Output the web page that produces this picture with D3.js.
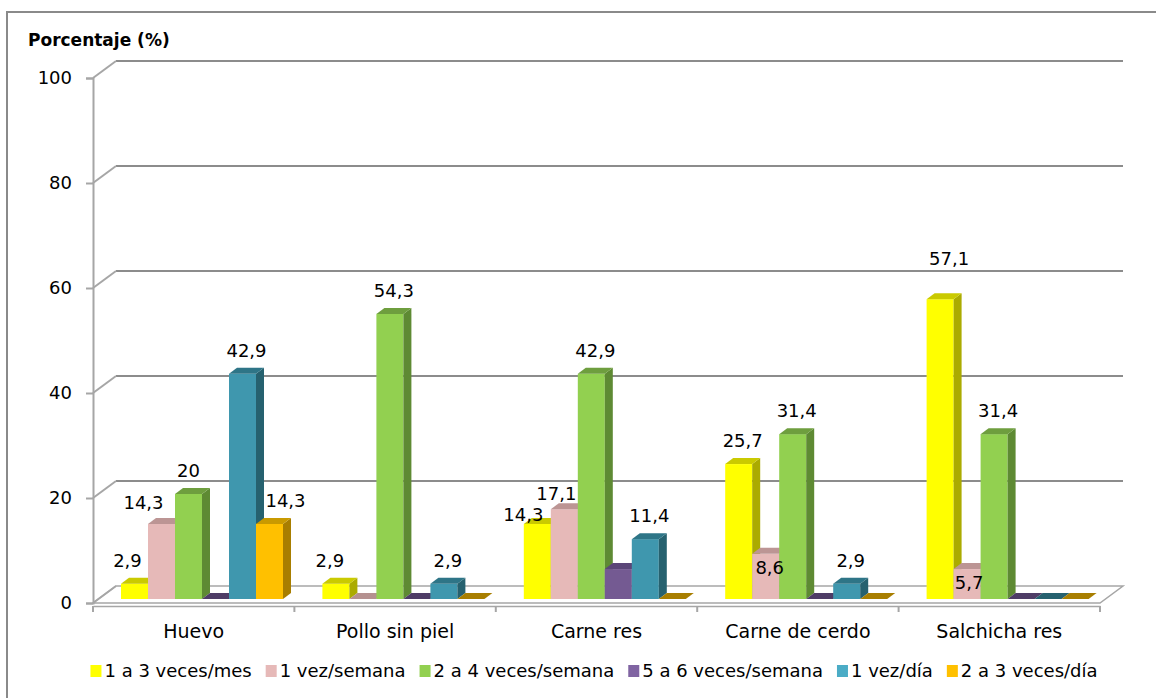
<!DOCTYPE html>
<html>
<head>
<meta charset="utf-8">
<script src="https://cdn.jsdelivr.net/npm/d3@7"></script>
<style>
  body { margin: 0; background: #fff; }
  svg text { font-family: "DejaVu Sans", sans-serif; fill: #000; }
</style>
</head>
<body>
<div class="chart"></div>
<script>
// Data: categories, series and values (percent)
const categories = ['Huevo', 'Pollo sin piel', 'Carne res', 'Carne de cerdo', 'Salchicha res'];
const seriesNames = ['1 a 3 veces/mes', '1 vez/semana', '2 a 4 veces/semana', '5 a 6 veces/semana', '1 vez/día', '2 a 3 veces/día'];
const huevo = [2.9, 14.3, 20, 0, 42.9, 14.3];
const polloSinPiel = [2.9, 0, 54.3, 0, 2.9, 0];
const carneRes = [14.3, 17.1, 42.9, 5.7, 11.4, 0];
const carneCerdo = [25.7, 8.6, 31.4, 0, 2.9, 0];
const salchichaRes = [57.1, 5.7, 31.4, 0, 0, 0];
const yTicks = [0, 20, 40, 60, 80, 100];

const values = [huevo, polloSinPiel, carneRes, carneCerdo, salchichaRes];

// colors: front, side, top
const palette = [
    { front: '#FFFF00', side: '#ABAB00', top: '#CACA00', legend: '#FFFF00' },
    { front: '#E6B9B8', side: '#B59190', top: '#BC9594', legend: '#E6B9B8' },
    { front: '#92D050', side: '#5E8A33', top: '#6E9E3E', legend: '#92D050' },
    { front: '#745A92', side: '#4E3C66', top: '#5B4678', legend: '#8064A2' },
    { front: '#3F97AE', side: '#26616F', top: '#2E7587', legend: '#4BACC6' },
    { front: '#FFC000', side: '#A87E00', top: '#C99A00', legend: '#FFC000' }
];

// labels moved by hand in the original (dx, dy from the default spot)
const labelNudge = {
    '0-0': [-11, 0], '0-1': [-22, 2], '0-2': [-4, 0], '0-5': [12, 0],
    '1-0': [-10, 0],
    '2-0': [-18, 14], '2-1': [-12, 7],
    '3-1': [0, 37],
    '4-0': [5, -18], '4-1': [-2, 37]
};
const hiddenLabels = ['2-3'];

const W = 1156, H = 698;
const depth = { dx: 23, dy: -17 };      // wall depth
const barDepth = { dx: 8, dy: -6 };     // bar depth
const gridColor = '#8C8C8C';
const axisColor = '#A6A6A6';

const svg = d3.select('.chart').append('svg')
    .attr('width', W)
    .attr('height', H);

// outer chart border
svg.append('path')
    .attr('d', `M7,${H + 5} L7,12 L${W + 5},12`)
    .attr('fill', 'none')
    .attr('stroke', '#8A8A8A')
    .attr('stroke-width', 2);

// Scales
const x = d3.scaleBand()
    .domain(categories)
    .range([93, 1100]);

const xs = d3.scaleBand()
    .domain(seriesNames)
    .range([28, 28 + 162]);

const yFront = d3.scaleLinear().domain([0, 100]).range([603, 78]);
const yBar = d3.scaleLinear().domain([0, 100]).range([599, 74]);

const x0 = x.range()[0], x1 = x.range()[1];

// floor
svg.append('polygon')
    .attr('points', [
        [x0, yFront(0)], [x0 + depth.dx, yFront(0) + depth.dy],
        [x1 + depth.dx, yFront(0) + depth.dy], [x1, yFront(0)]
    ].map(p => p.join(',')).join(' '))
    .attr('fill', '#fff')
    .attr('stroke', axisColor)
    .attr('stroke-width', 1.5);

// back wall gridlines + left wall diagonals
const grid = svg.append('g').attr('class', 'grid');
yTicks.forEach(t => {
    const yf = yFront(t), yb = yf + depth.dy;
    if (t > 0) {
        grid.append('line')
            .attr('x1', x0 + depth.dx).attr('x2', x1 + depth.dx)
            .attr('y1', yb).attr('y2', yb)
            .attr('stroke', gridColor).attr('stroke-width', 2);
    }
    grid.append('line')
        .attr('x1', x0).attr('y1', yf)
        .attr('x2', x0 + depth.dx).attr('y2', yb)
        .attr('stroke', axisColor).attr('stroke-width', 2);
});

// Y-axis
const yAxis = svg.append('g')
    .attr('class', 'y-axis')
    .attr('transform', `translate(${x0},0)`)
    .call(d3.axisLeft(yFront).tickValues(yTicks).tickSize(7).tickPadding(14));
yAxis.select('.domain').attr('stroke', axisColor).attr('stroke-width', 2);
yAxis.selectAll('.tick line').attr('stroke', axisColor).attr('stroke-width', 2);
yAxis.selectAll('text')
    .style('font-size', '18px')
    .style('font-family', '"DejaVu Sans", sans-serif')
    .attr('fill', '#000');

// X-axis (front edge of floor)
const xAxis = svg.append('g')
    .attr('class', 'x-axis')
    .attr('transform', `translate(0,${yFront(0) + 3})`)
    .call(d3.axisBottom(x).tickSize(0).tickPadding(19));
xAxis.select('.domain').attr('stroke', axisColor).attr('stroke-width', 1.5);
xAxis.selectAll('text')
    .style('font-size', '19px')
    .style('font-family', '"DejaVu Sans", sans-serif')
    .attr('fill', '#000');
// category separator ticks
xAxis.selectAll('.sep')
    .data(categories.map(c => x(c)).concat([x1]))
    .enter()
    .append('line')
    .attr('x1', d => d).attr('x2', d => d)
    .attr('y1', 0).attr('y2', 6)
    .attr('stroke', axisColor).attr('stroke-width', 2);

// Bars (3D boxes)
const bars = svg.append('g').attr('class', 'bars');
const bw = xs.bandwidth();
const base = yBar(0);
categories.forEach((cat, ci) => {
    seriesNames.forEach((s, si) => {
        const v = values[ci][si];
        const bx = x(cat) + xs(s);
        const top = yBar(v);
        const c = palette[si];
        const g = bars.append('g');
        if (v > 0) {
            g.append('rect')
                .attr('x', bx).attr('y', top)
                .attr('width', bw).attr('height', base - top)
                .attr('fill', c.front);
            g.append('polygon')
                .attr('points', [
                    [bx + bw, top], [bx + bw + barDepth.dx, top + barDepth.dy],
                    [bx + bw + barDepth.dx, base + barDepth.dy], [bx + bw, base]
                ].map(p => p.join(',')).join(' '))
                .attr('fill', c.side);
        }
        g.append('polygon')
            .attr('points', [
                [bx, top], [bx + barDepth.dx, top + barDepth.dy],
                [bx + bw + barDepth.dx, top + barDepth.dy], [bx + bw, top]
            ].map(p => p.join(',')).join(' '))
            .attr('fill', v > 0 ? c.top : c.side);
    });
});

// Data labels
const labels = svg.append('g').attr('class', 'labels');
categories.forEach((cat, ci) => {
    seriesNames.forEach((s, si) => {
        const v = values[ci][si];
        const key = `${ci}-${si}`;
        if (v === 0 || hiddenLabels.includes(key)) return;
        const nudge = labelNudge[key] || [0, 0];
        const lx = x(cat) + xs(s) + bw / 2 + 4 + nudge[0];
        const ly = yBar(v) - 23 + nudge[1];
        labels.append('text')
            .attr('x', lx)
            .attr('y', ly)
            .attr('dy', '0.35em')
            .attr('text-anchor', 'middle')
            .style('font-size', '18px')
            .text(String(v).replace('.', ','));
    });
});

// Axis title
svg.append('text')
    .attr('x', 28)
    .attr('y', 46)
    .style('font-size', '17px')
    .style('font-weight', 'bold')
    .text('Porcentaje (%)');

// Legend
const legend = svg.append('g').attr('class', 'legend');
let lx = 0;
seriesNames.forEach((s, si) => {
    const item = legend.append('g').attr('transform', `translate(${lx},0)`);
    item.append('rect')
        .attr('x', 0).attr('y', -6)
        .attr('width', 11).attr('height', 12)
        .attr('fill', palette[si].legend);
    const t = item.append('text')
        .attr('x', 14).attr('y', 0)
        .attr('dy', '0.35em')
        .style('font-size', '18px')
        .text(s);
    lx += 14 + t.node().getComputedTextLength() + 14;
});
const legendWidth = lx - 14;
legend.attr('transform', `translate(${594 - legendWidth / 2},671)`);
</script>
</body>
</html>
